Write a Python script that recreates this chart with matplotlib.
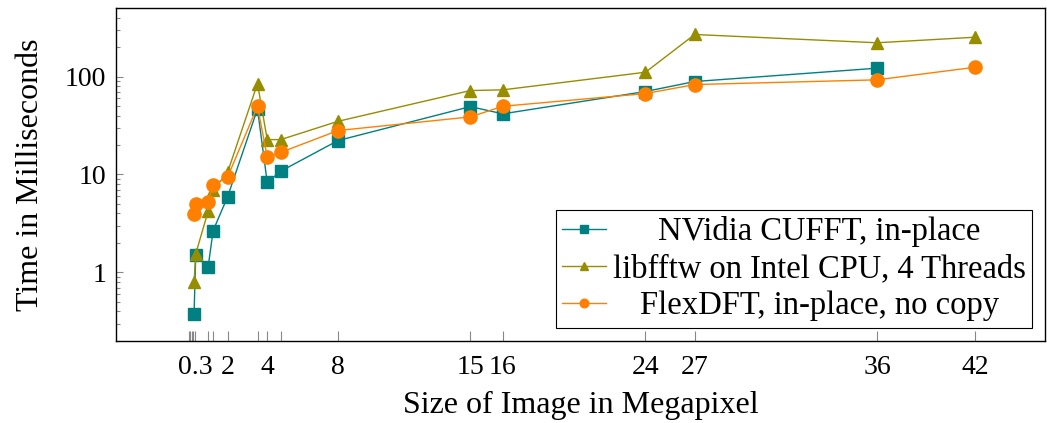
import matplotlib
matplotlib.use("Agg")
import matplotlib.pyplot as plt
from matplotlib.ticker import FixedLocator, NullFormatter, LogLocator

plt.rcParams["font.family"] = ["Liberation Serif", "DejaVu Serif"]

# image sizes in megapixel
x_gpu = [0.25, 0.34, 1.0, 1.27, 2.04, 3.64, 4.16, 4.88, 7.94, 15.01, 16.75, 24.37, 27.0, 36.74]
x_cpu = [0.25, 0.34, 1.0, 1.27, 2.04, 3.64, 4.16, 4.88, 7.94, 15.01, 16.75, 24.37, 27.0, 36.74, 42.0]
x_flex = [0.25, 0.34, 1.0, 1.27, 2.04, 3.64, 4.16, 4.88, 7.94, 15.01, 16.75, 24.37, 27.0, 36.74, 42.0]

# times in ms
t_gpu = [0.375, 1.51, 1.13, 2.68, 5.9, 46.7, 8.3, 10.8, 22.2, 49.3, 41.6, 70.3, 88.9, 121.6]
t_cpu = [0.79, 1.55, 4.2, 6.9, 10.5, 84.7, 22.7, 22.7, 34.9, 71.9, 73.1, 110.6, 268.5, 221.0, 252.0]
t_flex = [3.97, 4.99, 5.3, 7.87, 9.4, 49.6, 15.1, 16.8, 28.1, 38.7, 49.7, 67.0, 82.8, 92.5, 124.5]

labels = ["NVidia CUFFT, in-place", "libfftw on Intel CPU, 4 Threads", "FlexDFT, in-place, no copy"]

major_ticks = [0.3, 2.04, 4.16, 7.94, 15.01, 16.75, 24.37, 27.0, 36.74, 42.0]
major_labels = ["0.3", "2", "4", "8", "15", "16", "24", "27", "36", "42"]
minor_ticks = [0.0, 0.06, 0.12, 0.19, 1.0, 1.27, 3.64, 4.88]

fig = plt.figure(figsize=(10.47, 4.23), dpi=100)
ax = fig.add_axes([0.1108, 0.194, 0.887, 0.787])

ax.plot(x_gpu, t_gpu, color="#008080", marker="s", markersize=8.5, lw=1.0, label=labels[0])
ax.plot(x_cpu, t_cpu, color="#978d00", marker="^", markersize=9, lw=1.0, label=labels[1])
ax.plot(x_flex, t_flex, color="#ff8000", marker="o", markersize=9.5, lw=1.0, label=labels[2])

ax.set_yscale("log")
ax.set_ylim(0.2, 500)
ax.set_xlim(-3.92, 45.7)

ax.xaxis.set_major_locator(FixedLocator(major_ticks))
ax.set_xticklabels(major_labels)
ax.xaxis.set_minor_locator(FixedLocator(minor_ticks))
ax.yaxis.set_major_locator(FixedLocator([1, 10, 100]))
ax.set_yticklabels(["1", "10", "100"])
ax.yaxis.set_minor_locator(LogLocator(base=10, subs=range(2, 10)))
ax.yaxis.set_minor_formatter(NullFormatter())

ax.tick_params(axis="both", which="both", direction="in", top=False, right=False,
               labelsize=20, color="#888888", width=0.8)
ax.tick_params(axis="x", which="both", length=7.5, pad=10)
ax.tick_params(axis="y", which="major", length=5.3, pad=7)
ax.tick_params(axis="y", which="minor", length=3)

for s in ax.spines.values():
    s.set_linewidth(1.0)

ax.set_xlabel("Size of Image in Megapixel", fontsize=23, labelpad=8)
ax.set_ylabel("Time in Milliseconds", fontsize=23, labelpad=14)

leg = ax.legend(loc="lower right", fontsize=23.5, frameon=True, fancybox=False,
                edgecolor="black", framealpha=1, borderpad=0.2, handlelength=1.35,
                handletextpad=0.2, labelspacing=0.2, markerscale=0.65,
                borderaxespad=0, bbox_to_anchor=(0.9865, 0.04))
leg.get_frame().set_linewidth(0.8)

# center legend texts like pgfplots does
fig.canvas.draw()
widths = [t.get_window_extent().width for t in leg.get_texts()]
for t, w in zip(leg.get_texts(), widths):
    t.set_x((max(widths) - w) / 2)

fig.savefig("out.png", dpi=100)
